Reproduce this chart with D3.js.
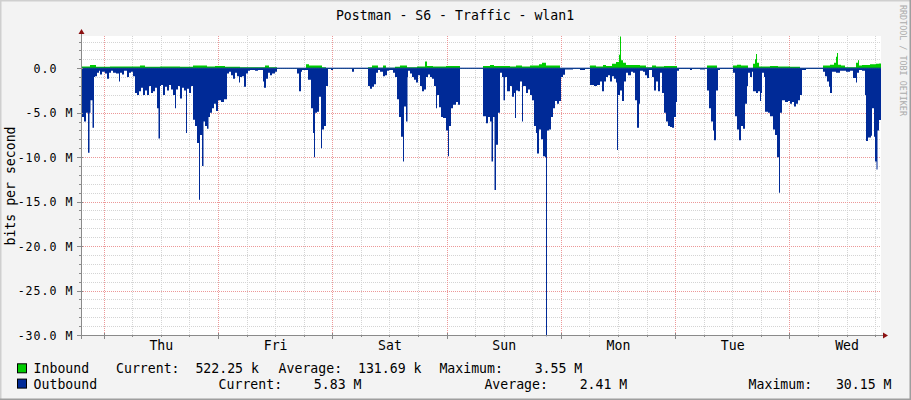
<!DOCTYPE html>
<html><head><meta charset="utf-8">
<script src="https://cdn.jsdelivr.net/npm/d3@7"></script>
<style>
body{margin:0;background:#F3F3F3}
svg{display:block}
text{font-family:"DejaVu Sans Mono",monospace;fill:#000;white-space:pre}
</style>
</head><body>
<svg id="c" width="911" height="400"></svg>
<script>
// ---------------- data ----------------
const title = "Postman - S6 - Traffic - wlan1";
const yAxisTitle = "bits per second";
const watermark = "RRDTOOL / TOBI OETIKER";
const yTickValues = [0, -5, -10, -15, -20, -25, -30];
const yTickLabels = ["0.0  ", "-5.0 M", "-10.0 M", "-15.0 M", "-20.0 M", "-25.0 M", "-30.0 M"];
const yDomain = [-30, 3.62];                 // Mbit/s
const startTime = Date.UTC(2024, 0, 3, 19, 14, 0);  // Wed 19:14
const rowSeconds = 756;                      // one RRD row
const totalRows = 800;

// Outbound (Mbit/s, plotted negative) : row index -> value
const outRow = [0,3,5,7,8.5,9.5,11.5,13,14,16,18,19,21,24,26,28,30,32,35,38,39,41,43,46,48,50,52,54,56,58,60,62,64,66,68,70,72,74,76,77.5,79,80,82,84,86,88,90,92,94,95,97,99,101,103,105,106,108,110,112,114,116,118,119,121,122.5,124,126,127.5,129,131,133,135,137,140,143,146,148,150,152,154,156,158,159,161,163,165,167,169,174,177,182,183,185,187,189,191,194,196,216,218,220,221,227,230,232,233,234,236,238,240,241,243,245,247,250,252,271,273,287,289,291,293,295,297,299,302,304,306,308,312,314,316,318,320,322,323,325,326.5,327,329,331,333,335,337,339,341,343,345,347,349,351,353,355,356,358,360,362,365,367,368,370,372,375,377,379,402,405,407,409,410.5,412,413.5,415,417,419,421,422.5,424,426,429,431,433,434,435,437,439,441,442,445,447,449,451,453,455,456,458,460,462,464,465,466,468,470,472,474,476,478,480,482,484,492,499,504,509,513,516,519,521,523,525,527,529,531,533,535,536,537,539,541,543,545,547,550,552,554,556,558,559,562,564,566,568,571,573,575,577,579,581,583,585,587,589,591,593,595,596,598,609,611,619,624,626,628,630,632,633,635,637,639,652,654,656,658,660,662,664,666,667,669,671,672,675,677,679,680,681,683,684,687,689,692,694,696,698,699,701,704,707,709,711,713,715,717,719,721,725,742,744,746,748,749,751,755,759,765,769,772,775,776,778,781,784,785,787,790,791,793,794,795.5,796.5,798];
const outMbps = [5.5,6.0,5.0,9.5,5.0,3.6,6.7,1.0,0.9,0.5,0.3,0.7,0.4,0.6,1.2,0.5,0.3,0.5,0.6,1.5,0.5,0.7,0.3,1.0,0.5,0.4,0.9,2.8,3.0,2.6,2.2,3.0,2.5,3.0,2.0,2.8,2.6,2.2,4.5,7.9,2.0,1.9,3.0,2.1,2.5,1.9,2.4,3.0,4.5,2.4,2.0,3.4,2.2,2.5,7.3,2.3,2.8,2.0,5.8,6.5,8.4,14.8,7.5,11.0,6.0,6.5,6.8,5.5,5.0,4.5,4.0,4.8,3.6,3.8,3.5,0.6,0.4,0.8,1.2,0.5,0.9,1.6,1.0,0.9,2.1,0.6,0.3,0.2,0.3,0.2,1.5,2.2,1.2,0.5,0.8,0.6,0.4,0.05,0.6,2.6,0.4,0.2,1.3,4.5,7.3,10.0,5.0,4.9,3.2,9.0,6.9,6.5,2.0,0.1,0.2,0.05,0.4,0.1,2.0,2.3,2.1,1.8,0.5,0.2,0.4,0.9,0.8,0.3,0.2,0.5,1.0,3.5,5.5,7.7,10.5,4.3,6.0,1.0,0.3,0.6,1.0,1.3,1.6,0.8,2.0,2.6,2.4,1.0,0.7,1.0,1.2,2.0,4.5,3.0,4.4,5.5,5.6,7.0,9.9,6.5,4.5,4.1,3.8,4.1,0.05,5.4,6.2,5.5,6.0,10.5,5.5,13.7,8.6,5.0,0.5,1.0,3.6,1.0,2.6,2.0,3.2,2.8,5.6,2.5,2.6,1.5,6.0,2.0,2.8,2.4,3.0,3.6,6.5,7.3,9.6,6.9,8.0,9.9,10.0,30.15,7.0,6.9,5.5,4.5,3.7,4.0,3.7,1.0,0.75,0.15,0.1,0.2,0.1,1.9,2.0,1.9,1.5,2.6,1.5,1.0,0.8,1.5,0.9,1.2,1.6,9.2,3.0,2.5,3.7,1.5,0.5,0.8,0.4,0.5,3.6,6.7,4.0,0.3,0.4,0.8,1.1,0.2,1.0,2.5,1.5,2.6,0.5,2.8,5.0,6.0,6.5,6.6,6.7,5.5,3.8,0.3,0.1,0.2,0.1,0.15,0.1,2.5,4.5,6.0,7.0,8.1,2.5,0.2,0.1,0.5,5.4,6.9,8.1,6.5,6.8,4.0,2.0,0.5,1.0,0.4,2.6,2.8,2.6,3.7,2.8,0.5,1.0,4.9,5.0,5.4,6.9,7.5,10.0,14.0,5.0,3.6,3.8,3.7,4.0,3.8,4.3,4.0,3.6,3.0,0.2,0.1,0.4,0.9,1.5,2.1,2.8,0.4,0.5,0.3,0.4,0.3,1.1,1.6,0.5,0.2,0.3,3.0,8.2,7.8,7.6,4.5,7.7,10.5,11.4,7.0,5.83];

// Inbound (Mbit/s) : row index -> value
const inRow = [0,9,15,29,59,64,79,99,112,126,134,144,159,184,188,196,225,228,241,245,287,291,297,302,305,314,319,326,336,344,346,352,365,379,402,409,413,429,435,441,449,458,461,465,479,509,515,522,525,531,535,538,539,540,542,545,559,565,571,575,583,596,626,636,652,656,660,667,672,674,675,676,678,689,697,709,719,742,749,753,755,756,757,760,764,775,777,778,781,789,795,798];
const inMbps = [0.2,0.35,0.15,0.2,0.3,0.15,0.2,0.15,0.3,0.2,0.25,0.15,0.1,0.3,0.1,0.02,0.45,0.3,0.1,0.02,0.1,0.3,0.05,0.3,0.05,0.15,0.3,0.1,0.2,0.75,0.25,0.2,0.25,0.02,0.25,0.35,0.25,0.2,0.3,0.2,0.3,0.45,0.6,0.3,0.02,0.3,0.2,0.35,0.25,0.5,0.7,1.5,3.55,0.9,0.6,0.35,0.3,0.1,0.3,0.2,0.25,0.03,0.3,0.03,0.3,0.4,0.3,0.03,0.5,1.0,1.6,0.6,0.2,0.25,0.2,0.15,0.03,0.3,0.4,0.6,1.3,1.7,0.4,0.3,0.1,0.6,0.9,0.3,0.35,0.45,0.5,0.52];

const legendNames = ["Inbound", "Outbound"];
const legendColors = ["#00CC00", "#002A97"];
const legendCurrent = ["Current:  522.25 k", "Current:    5.83 M"];
const legendAverage = ["Average:  131.69 k", "Average:    2.41 M"];
const legendMaximum = ["Maximum:    3.55 M", "Maximum:   30.15 M"];

// ---------------- layout ----------------
const W = 911, H = 400;
const plot = {left: 81, right: 881, top: 36, bottom: 335};
const svg = d3.select("#c");

const endTime = startTime + totalRows * rowSeconds * 1000;
const x = d3.scaleUtc().domain([new Date(startTime), new Date(endTime)]).range([plot.left, plot.right]);
const y = d3.scaleLinear().domain(yDomain).range([plot.bottom, plot.top]);
const rowTime = r => new Date(startTime + r * rowSeconds * 1000);

// background + frame shades
svg.append("rect").attr("width", W).attr("height", H).attr("fill", "#F3F3F3");
svg.append("rect").attr("x", plot.left).attr("y", plot.top)
  .attr("width", plot.right - plot.left).attr("height", plot.bottom - plot.top).attr("fill", "#FFFFFF");
svg.append("path").attr("d", `M0,${H}V0H${W}`).attr("fill", "none").attr("stroke", "#CFCFCF").attr("stroke-width", 3);
svg.append("path").attr("d", `M0,${H}H${W}V0`).attr("fill", "none").attr("stroke", "#9E9E9E").attr("stroke-width", 3);

// grid
const g = svg.append("g");
const minorY = d3.range(-30, 4, 1).filter(v => v % 5 !== 0);
const majorY = d3.range(-30, 4, 5);
const hours6 = d3.utcHour.every(6).range(x.domain()[0], x.domain()[1]).filter(d => d.getUTCHours() !== 0);
const days = d3.utcDay.range(x.domain()[0], x.domain()[1]);

g.selectAll(".hmin").data(minorY).join("line")
  .attr("x1", plot.left).attr("x2", plot.right)
  .attr("y1", d => Math.round(y(d)) + 0.5).attr("y2", d => Math.round(y(d)) + 0.5)
  .attr("stroke", "#D4D4D4").attr("stroke-dasharray", "1,1");
g.selectAll(".vmin").data(hours6).join("line")
  .attr("x1", d => Math.round(x(d)) + 0.5).attr("x2", d => Math.round(x(d)) + 0.5)
  .attr("y1", plot.top).attr("y2", plot.bottom)
  .attr("stroke", "#D4D4D4").attr("stroke-dasharray", "1,1");
g.selectAll(".hmaj").data(majorY).join("line")
  .attr("x1", plot.left).attr("x2", plot.right)
  .attr("y1", d => Math.round(y(d)) + 0.5).attr("y2", d => Math.round(y(d)) + 0.5)
  .attr("stroke", "#EC9898").attr("stroke-dasharray", "1,1");
g.selectAll(".vmaj").data(days).join("line")
  .attr("x1", d => Math.round(x(d)) + 0.5).attr("x2", d => Math.round(x(d)) + 0.5)
  .attr("y1", plot.top).attr("y2", plot.bottom)
  .attr("stroke", "#EC9898").attr("stroke-dasharray", "1,1");

// series
const outData = outRow.map((r, i) => ({t: rowTime(r), v: -outMbps[i]}));
outData.push({t: new Date(endTime), v: outData[outData.length - 1].v});
const inData = inRow.map((r, i) => ({t: rowTime(r), v: inMbps[i]}));
inData.push({t: new Date(endTime), v: inData[inData.length - 1].v});

const area = d3.area().curve(d3.curveStepAfter)
  .x(d => x(d.t)).y0(y(0)).y1(d => y(d.v));
svg.append("path").datum(outData).attr("d", area).attr("fill", legendColors[1]);
svg.append("path").datum(inData).attr("d", area).attr("fill", legendColors[0]);
svg.append("line").attr("x1", plot.left).attr("x2", plot.right)
  .attr("y1", y(0)).attr("y2", y(0)).attr("stroke", legendColors[1]).attr("stroke-width", 1);

// axes
const yAxis = d3.axisLeft(y).tickValues(yTickValues)
  .tickFormat((d, i) => yTickLabels[i]).tickSize(0).tickPadding(7.5);
const ya = svg.append("g").attr("transform", `translate(${plot.left},0)`).call(yAxis);
ya.select(".domain").remove();
ya.selectAll("text").attr("font-family", "DejaVu Sans Mono").attr("font-size", 11.6)
  .attr("letter-spacing", "1px").attr("xml:space", "preserve").attr("dy", "0.36em").attr("fill", "#000");

const xAxis = d3.axisBottom(x).tickValues(days.map(d => d3.utcHour.offset(d, 12)))
  .tickFormat(d3.utcFormat("%a")).tickSize(0).tickPadding(6);
const xa = svg.append("g").attr("transform", `translate(0,${plot.bottom})`).call(xAxis);
xa.select(".domain").remove();
xa.selectAll("text").attr("font-family", "DejaVu Sans Mono").attr("font-size", 13.2).attr("fill", "#000").attr("dy", "0.71em");

// tick marks
const axisColor = "#8A8A8A";
svg.selectAll(".ytm").data(minorY).join("line")
  .attr("x1", plot.left - 2).attr("x2", plot.left)
  .attr("y1", d => Math.round(y(d)) + 0.5).attr("y2", d => Math.round(y(d)) + 0.5).attr("stroke", axisColor);
svg.selectAll(".ytM").data(majorY).join("line")
  .attr("x1", plot.left - 4).attr("x2", plot.left + 2)
  .attr("y1", d => Math.round(y(d)) + 0.5).attr("y2", d => Math.round(y(d)) + 0.5).attr("stroke", axisColor);
svg.selectAll(".xtm").data(hours6).join("line")
  .attr("x1", d => Math.round(x(d)) + 0.5).attr("x2", d => Math.round(x(d)) + 0.5)
  .attr("y1", plot.bottom).attr("y2", plot.bottom + 2).attr("stroke", axisColor);
svg.selectAll(".xtM").data(days).join("line")
  .attr("x1", d => Math.round(x(d)) + 0.5).attr("x2", d => Math.round(x(d)) + 0.5)
  .attr("y1", plot.bottom - 2).attr("y2", plot.bottom + 4).attr("stroke", axisColor);

svg.append("line").attr("x1", plot.left + 0.5).attr("x2", plot.left + 0.5)
  .attr("y1", plot.bottom + 4).attr("y2", 33).attr("stroke", axisColor);
svg.append("line").attr("x1", plot.left - 4).attr("x2", plot.right + 2)
  .attr("y1", plot.bottom + 0.5).attr("y2", plot.bottom + 0.5).attr("stroke", axisColor);
svg.append("path").attr("d", `M${plot.left + 0.5},29 L${plot.left + 3.5},34 L${plot.left - 2.5},34 Z`).attr("fill", "#8B1010");
svg.append("path").attr("d", `M${plot.right + 7},${plot.bottom + 0.5} L${plot.right + 2},${plot.bottom - 2.5} L${plot.right + 2},${plot.bottom + 3.5} Z`).attr("fill", "#8B1010");

// titles
svg.append("text").attr("x", 455).attr("y", 19.5).attr("text-anchor", "middle")
  .attr("font-size", 13.2).text(title);
svg.append("text").attr("transform", "translate(15,186) rotate(-90)").attr("text-anchor", "middle")
  .attr("font-size", 13.2).text(yAxisTitle);
svg.append("text").attr("transform", "translate(900,5) rotate(90)")
  .attr("font-size", 8.4).style("fill", "#ABABAB").text(watermark);

// legend
const lg = svg.append("g").attr("font-size", 13.2);
const rowsY = [373.3, 388.6];
const colX = [[116, 278.6, 439.4], [218.6, 484.4, 748.6]];
legendNames.forEach((name, i) => {
  lg.append("rect").attr("x", 17.5).attr("y", rowsY[i] - 9.5).attr("width", 9).attr("height", 9)
    .attr("fill", legendColors[i]).attr("stroke", "#000").attr("stroke-width", 1);
  lg.append("text").attr("x", 33.6).attr("y", rowsY[i]).attr("xml:space", "preserve").text(name);
  [legendCurrent[i], legendAverage[i], legendMaximum[i]].forEach((s, j) => {
    lg.append("text").attr("x", colX[i][j]).attr("y", rowsY[i]).attr("xml:space", "preserve").text(s);
  });
});
</script>
</body></html>
